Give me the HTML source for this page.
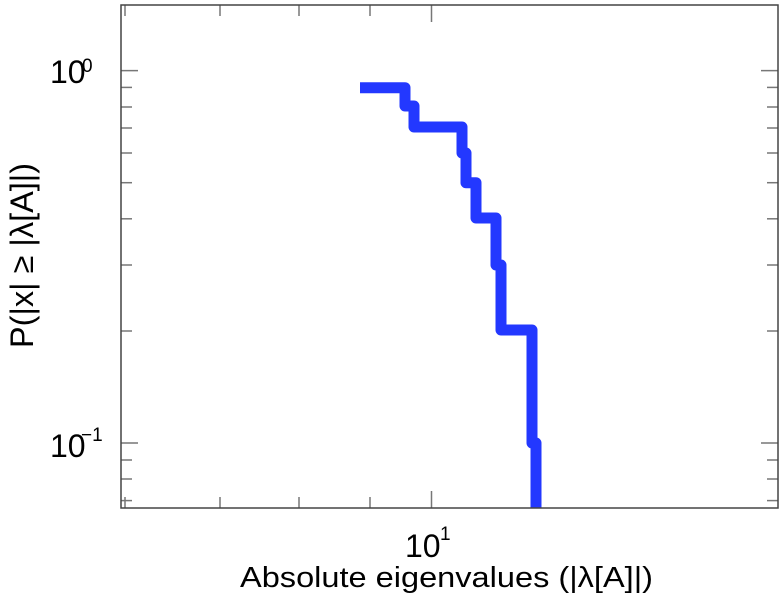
<!DOCTYPE html>
<html><head><style>body{margin:0;background:#fff}svg{display:block}</style></head><body>
<svg width="780" height="600" xmlns="http://www.w3.org/2000/svg" font-family="Liberation Sans, DejaVu Sans, sans-serif">
<rect x="0" y="0" width="780" height="600" fill="#fff"/>
<g stroke="#777" stroke-width="1.5">
<line x1="121" y1="70.6" x2="138" y2="70.6"/><line x1="778" y1="70.6" x2="761" y2="70.6"/>
<line x1="121" y1="443" x2="138" y2="443"/><line x1="778" y1="443" x2="761" y2="443"/>
<line x1="121" y1="87.4" x2="132" y2="87.4"/><line x1="778" y1="87.4" x2="767" y2="87.4"/>
<line x1="121" y1="107" x2="132" y2="107"/><line x1="778" y1="107" x2="767" y2="107"/>
<line x1="121" y1="128" x2="132" y2="128"/><line x1="778" y1="128" x2="767" y2="128"/>
<line x1="121" y1="153" x2="132" y2="153"/><line x1="778" y1="153" x2="767" y2="153"/>
<line x1="121" y1="182.7" x2="132" y2="182.7"/><line x1="778" y1="182.7" x2="767" y2="182.7"/>
<line x1="121" y1="218.8" x2="132" y2="218.8"/><line x1="778" y1="218.8" x2="767" y2="218.8"/>
<line x1="121" y1="265" x2="132" y2="265"/><line x1="778" y1="265" x2="767" y2="265"/>
<line x1="121" y1="331" x2="132" y2="331"/><line x1="778" y1="331" x2="767" y2="331"/>
<line x1="121" y1="460" x2="132" y2="460"/><line x1="778" y1="460" x2="767" y2="460"/>
<line x1="121" y1="479" x2="132" y2="479"/><line x1="778" y1="479" x2="767" y2="479"/>
<line x1="121" y1="500.6" x2="132" y2="500.6"/><line x1="778" y1="500.6" x2="767" y2="500.6"/>
<line x1="431.5" y1="508" x2="431.5" y2="491"/><line x1="431.5" y1="5" x2="431.5" y2="22"/>
<line x1="370" y1="508" x2="370" y2="497"/><line x1="370" y1="5" x2="370" y2="16"/>
<line x1="299" y1="508" x2="299" y2="497"/><line x1="299" y1="5" x2="299" y2="16"/>
<line x1="220" y1="508" x2="220" y2="497"/><line x1="220" y1="5" x2="220" y2="16"/>
<line x1="125" y1="508" x2="125" y2="497"/><line x1="125" y1="5" x2="125" y2="16"/>
</g>
<polyline fill="none" stroke="#2338ff" stroke-width="11" stroke-linejoin="round"
points="360,87.7 405,87.7 405,106 414,106 414,127 462,127 462,153 466,153 466,182.7 476,182.7 476,218 496,218 496,265 501,265 501,330 532,330 532,443 536,443 536,508"/>
<rect x="121" y="5" width="657" height="503" fill="none" stroke="#444" stroke-width="1.5"/>
<g fill="#000">
<text x="50" y="83" font-size="32">10</text><text x="82" y="72" font-size="19">0</text>
<text x="50" y="457" font-size="32">10</text><text x="81" y="441" font-size="19">−1</text>
<text x="405" y="557" font-size="32">10</text><text x="440" y="540" font-size="19">1</text>
<text x="240" y="587" font-size="29" textLength="413" lengthAdjust="spacingAndGlyphs">Absolute eigenvalues (|λ[A]|)</text>
<text transform="translate(33,348) rotate(-90)" font-size="32" textLength="185" lengthAdjust="spacingAndGlyphs">P(|x| ≥ |λ[A]|)</text>
</g>
</svg>
</body></html>
